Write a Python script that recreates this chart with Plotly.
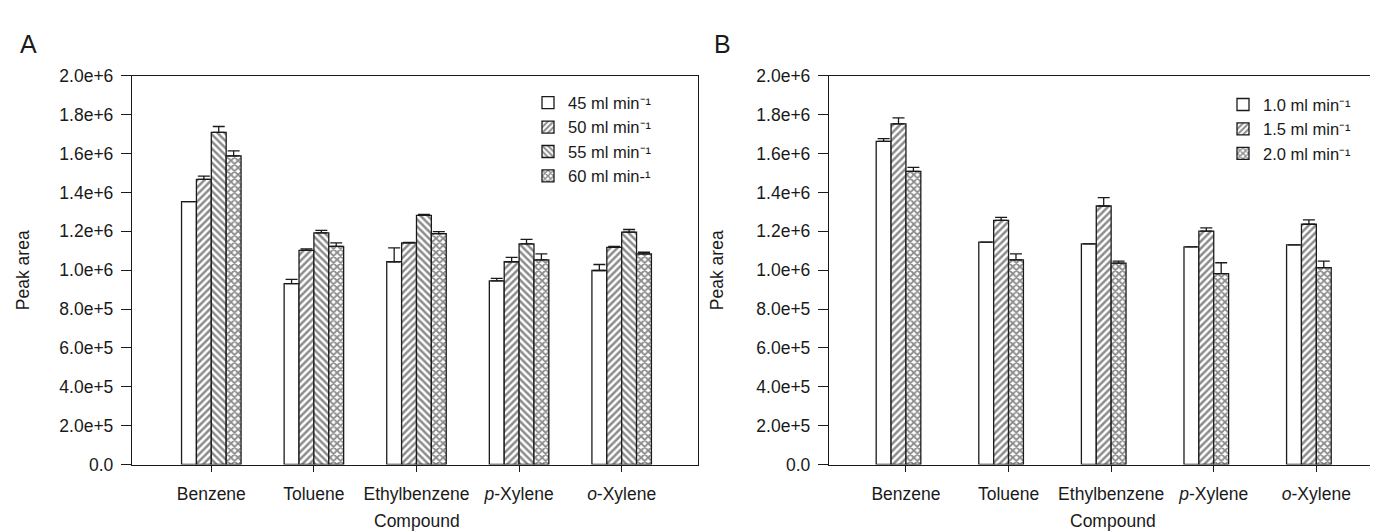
import plotly.graph_objects as go

# ---------------- data ----------------
compounds = ["Benzene", "Toluene", "Ethylbenzene", "<i>p</i>-Xylene", "<i>o</i>-Xylene"]

# Panel A: flow rates 45, 50, 55, 60 ml/min
a_names = ["45 ml min\u207b\u00b9", "50 ml min\u207b\u00b9", "55 ml min\u207b\u00b9", "60 ml min-\u00b9"]
a45 = [1.352e6, 0.931e6, 1.043e6, 0.945e6, 0.998e6]
a45_err = [0.0, 0.021e6, 0.072e6, 0.013e6, 0.031e6]
a50 = [1.467e6, 1.102e6, 1.140e6, 1.043e6, 1.117e6]
a50_err = [0.017e6, 0.007e6, 0.003e6, 0.023e6, 0.005e6]
a55 = [1.709e6, 1.192e6, 1.282e6, 1.135e6, 1.196e6]
a55_err = [0.030e6, 0.013e6, 0.005e6, 0.023e6, 0.013e6]
a60 = [1.588e6, 1.122e6, 1.188e6, 1.053e6, 1.084e6]
a60_err = [0.026e6, 0.018e6, 0.010e6, 0.031e6, 0.008e6]

# Panel B: flow rates 1.0, 1.5, 2.0 ml/min
b_names = ["1.0 ml min\u207b\u00b9", "1.5 ml min\u207b\u00b9", "2.0 ml min\u207b\u00b9"]
b10 = [1.662e6, 1.144e6, 1.135e6, 1.120e6, 1.130e6]
b10_err = [0.015e6, 0.0, 0.0, 0.0, 0.0]
b15 = [1.752e6, 1.256e6, 1.330e6, 1.201e6, 1.236e6]
b15_err = [0.031e6, 0.015e6, 0.043e6, 0.016e6, 0.023e6]
b20 = [1.508e6, 1.053e6, 1.036e6, 0.982e6, 1.013e6]
b20_err = [0.021e6, 0.031e6, 0.010e6, 0.056e6, 0.033e6]

y_ticks = [0, 2e5, 4e5, 6e5, 8e5, 1.0e6, 1.2e6, 1.4e6, 1.6e6, 1.8e6, 2.0e6]
y_ticktext = ["0.0", "2.0e+5", "4.0e+5", "6.0e+5", "8.0e+5", "1.0e+6",
              "1.2e+6", "1.4e+6", "1.6e+6", "1.8e+6", "2.0e+6"]

# ---------------- styling ----------------
W, H = 1378, 531
FONT = "Liberation Sans, Arial, sans-serif"
INK = "#1a1a1a"
FS = 17.5
BAR_W = 0.145
xpos = list(range(len(compounds)))

def px_x(p):
    return p / W

def px_y(p):
    return (H - p) / H

fig = go.Figure()

def add_bar(vals, errs, name, shape, offset, xa, ya, legend):
    fig.add_trace(go.Bar(
        x=xpos, y=vals, name=name,
        width=BAR_W, offset=offset,
        xaxis=xa, yaxis=ya, legend=legend,
        marker=dict(color="white",
                    line=dict(color=INK, width=1.3),
                    pattern=dict(shape=shape, fgcolor=INK, bgcolor="white",
                                 size=5, solidity=0.5 if shape != "x" else 0.6,
                                 fillmode="overlay")),
        error_y=dict(type="data", array=errs, arrayminus=[0] * len(errs),
                     symmetric=False, color=INK, thickness=1.3, width=6),
    ))

a_series = [(a45, a45_err, ""), (a50, a50_err, "/"), (a55, a55_err, "\\"), (a60, a60_err, "x")]
for i, (v, e, s) in enumerate(a_series):
    add_bar(v, e, a_names[i], s, (i - 2) * BAR_W, "x", "y", "legend")

b_series = [(b10, b10_err, ""), (b15, b15_err, "/"), (b20, b20_err, "x")]
for i, (v, e, s) in enumerate(b_series):
    add_bar(v, e, b_names[i], s, (i - 2) * BAR_W, "x2", "y2", "legend2")

ydom = [px_y(464), px_y(60)]

common_x = dict(tickvals=xpos, ticktext=compounds, ticks="outside", ticklen=6,
                tickwidth=1.3, tickcolor=INK, showline=True, linecolor=INK,
                linewidth=1.3, showgrid=False, zeroline=False,
                tickfont=dict(family=FONT, size=FS, color=INK),
                ticklabelstandoff=7)
common_y = dict(range=[0, 2e6], tickvals=y_ticks, ticktext=y_ticktext,
                ticks="outside", ticklen=10, tickwidth=1.3, tickcolor=INK,
                showline=True, linecolor=INK, linewidth=1.3, showgrid=False,
                zeroline=False, tickfont=dict(family=FONT, size=FS, color=INK),
                ticklabelstandoff=4, domain=ydom)

legend_common = dict(xanchor="left", yanchor="top", bgcolor="rgba(0,0,0,0)",
                     font=dict(family=FONT, size=16.5, color=INK),
                     tracegroupgap=0, itemwidth=30)

fig.update_layout(
    width=W, height=H,
    margin=dict(l=0, r=0, t=0, b=0),
    paper_bgcolor="white", plot_bgcolor="white",
    barmode="overlay",
    font=dict(family=FONT, size=FS, color=INK),
    xaxis=dict(common_x, domain=[px_x(124), px_x(690)], range=[-0.773, 4.744],
               anchor="y", mirror=True),
    yaxis=dict(common_y, anchor="x", mirror=True),
    xaxis2=dict(common_x, domain=[px_x(821), 1.0], range=[-0.75, 4.679],
                anchor="y2", mirror=True),
    yaxis2=dict(common_y, anchor="x2", mirror=False),
    legend=dict(legend_common, x=px_x(520), y=px_y(70)),
    legend2=dict(legend_common, x=px_x(1215), y=px_y(72)),
    showlegend=True,
)

annots = [
    dict(text="A", x=px_x(10), y=px_y(10), xanchor="left", yanchor="top",
         font=dict(family=FONT, size=25, color=INK)),
    dict(text="B", x=px_x(704), y=px_y(10), xanchor="left", yanchor="top",
         font=dict(family=FONT, size=25, color=INK)),
    dict(text="Peak area", x=px_x(15), y=px_y(262), textangle=-90,
         xanchor="center", yanchor="middle", font=dict(family=FONT, size=FS, color=INK)),
    dict(text="Peak area", x=px_x(709), y=px_y(262), textangle=-90,
         xanchor="center", yanchor="middle", font=dict(family=FONT, size=FS, color=INK)),
    dict(text="Compound", x=px_x(409), y=px_y(523), xanchor="center", yanchor="middle",
         font=dict(family=FONT, size=FS, color=INK)),
    dict(text="Compound", x=px_x(1105), y=px_y(523), xanchor="center", yanchor="middle",
         font=dict(family=FONT, size=FS, color=INK)),
]
for a in annots:
    a.update(xref="paper", yref="paper", showarrow=False)
fig.update_layout(annotations=annots)

fig.write_html("out.html")
